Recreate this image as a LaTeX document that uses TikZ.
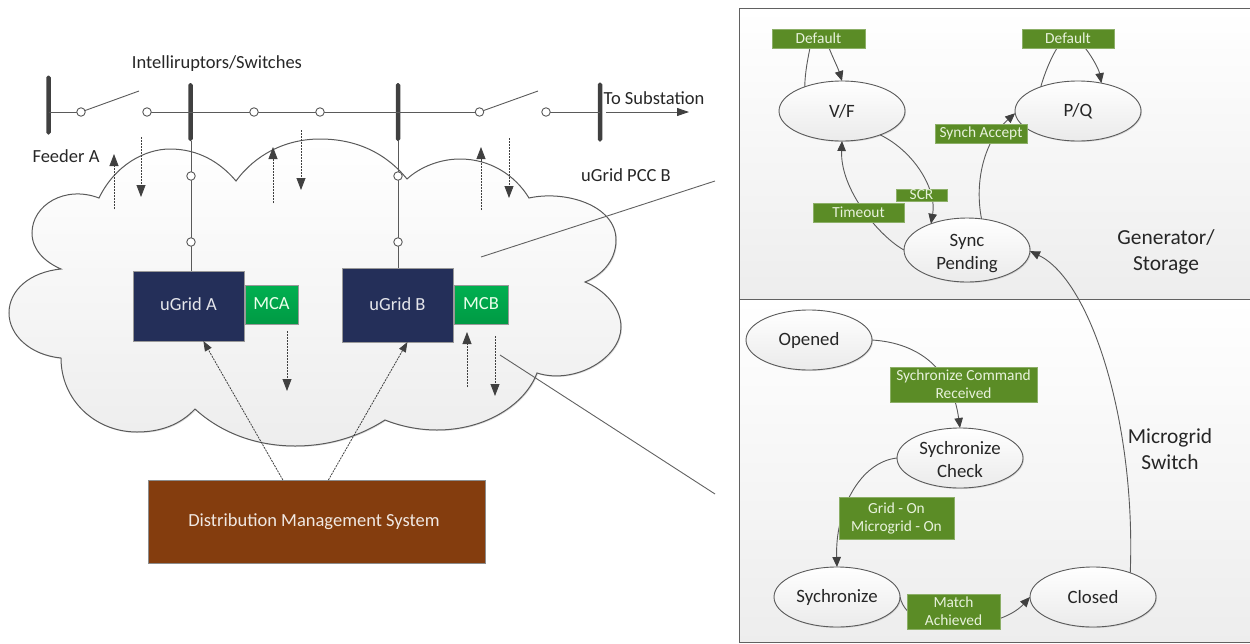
\documentclass[tikz,border=0pt]{standalone}
\usepackage{fontspec}
\setmainfont{Carlito}
\usetikzlibrary{arrows.meta,shapes.geometric,shadows}
\definecolor{ink}{HTML}{262626}
\definecolor{wire}{HTML}{5A5A5A}
\definecolor{tipc}{HTML}{404040}
\definecolor{tagfill}{HTML}{5B8C26}
\definecolor{tagtext}{HTML}{E8F2DC}
\definecolor{navy}{HTML}{242F59}
\definecolor{brownbox}{HTML}{843D0E}
\definecolor{ctrltop}{HTML}{00B050}
\definecolor{ctrlbot}{HTML}{009A44}
\newcommand{\fs}[2]{\fontsize{#1}{#2}\selectfont}
\tikzset{
  every node/.style={inner sep=0pt,outer sep=0pt},
  softshadow/.style={general shadow={fill=black!35,shadow xshift=1pt,shadow yshift=-1pt,opacity=.4}},
  wireline/.style={draw=wire,line width=0.9pt},
  arrowline/.style={wireline,-{Triangle[length=10pt,width=8.5pt,color=tipc]}},
  flow/.style={draw=tipc,line width=0.8pt,dash pattern=on 2pt off 1pt,-{Triangle[length=12pt,width=9pt,color=tipc]}},
  bus/.style={rectangle,rounded corners=1.8pt,fill=tipc,minimum width=4.5pt},
  term/.style={circle,draw=wire,line width=0.9pt,fill=white,minimum size=8.5pt},
  state/.style={ellipse,draw=wire,line width=0.9pt,top color=white,bottom color=black!8,minimum width=126pt,minimum height=60pt,align=center,text=ink,font=\fs{18.8}{23},softshadow},
  tag/.style={rectangle,fill=tagfill,draw=tagfill!70!white,line width=0.5pt,align=center,text=tagtext,font=\fs{15.4}{18}},
  lbl/.style={text=ink,align=center,font=\fs{18.5}{26}},
  big/.style={text=ink,align=center,font=\fs{21.4}{26}},
  panel/.style={draw=black!62,line width=1pt,top color=white,bottom color=black!7},
  unit/.style={rectangle,fill=navy,draw=black!40,line width=0.8pt,text=white!88!navy,font=\fs{18.5}{20}},
  ctrl/.style={rectangle,top color=ctrltop,bottom color=ctrlbot,draw=black!40,line width=0.6pt,text=white!92!green,font=\fs{18.5}{20}},
  callout/.style={draw=black!62,line width=0.9pt},
}
\begin{document}
\begin{tikzpicture}[x=1pt,y=-1pt]
\useasboundingbox (0,0) rectangle (1250,643);
% panels
\path[panel] (739,8) rectangle (1252,299);
\path[panel] (739,299) rectangle (1252,642);
% cloud
\path[draw=wire,line width=1pt,top color=white,bottom color=black!7,softshadow]
  (99,198) .. controls (115,165) and (145,149) .. (170,149)
  .. controls (198,149) and (220,162) .. (236,181)
  .. controls (255,155) and (285,139) .. (320,139)
  .. controls (355,139) and (385,152) .. (407,179)
  .. controls (420,167) and (440,159) .. (460,159)
  .. controls (490,159) and (515,175) .. (529,198)
  .. controls (565,190) and (616,205) .. (616,240)
  .. controls (616,262) and (600,276) .. (585,282)
  .. controls (605,290) and (621,308) .. (621,327)
  .. controls (621,358) and (575,385) .. (537,373)
  .. controls (525,405) and (485,430) .. (437,430)
  .. controls (418,430) and (400,426) .. (385,420)
  .. controls (360,436) and (330,446) .. (295,446)
  .. controls (255,446) and (220,432) .. (195,409)
  .. controls (180,425) and (160,432) .. (137,432)
  .. controls (95,432) and (61,400) .. (61,358)
  .. controls (30,355) and (9,335) .. (9,313)
  .. controls (9,290) and (30,272) .. (61,269)
  .. controls (45,262) and (32,250) .. (32,233)
  .. controls (32,205) and (65,185) .. (99,198) -- cycle;
% buses and terminals
\node[bus,minimum height=59pt] (b1) at (48.5,105) {};
\node[bus,minimum height=58pt] (b2) at (190.5,112) {};
\node[bus,minimum height=58pt] (b3) at (398,112) {};
\node[bus,minimum height=59pt] (b4) at (600,112) {};
\coordinate (c1) at (81,112);
\coordinate (c2) at (147,112);
\coordinate (c3) at (254,112);
\coordinate (c4) at (320,112);
\coordinate (c5) at (479.5,112);
\coordinate (c6) at (546,112);
\coordinate (c7) at (191,176);
\coordinate (c8) at (191,242);
\coordinate (c9) at (398,176);
\coordinate (c10) at (398,242);
\coordinate (blade1) at (139,91);
\coordinate (blade2) at (538,91);
\coordinate (subs) at (606,112);
\coordinate (sube) at (689,112);
% units
\node[unit,minimum width=111pt,minimum height=70pt] (ua) at (188.5,306) {\raisebox{3pt}{uGrid A}};
\node[unit,minimum width=111pt,minimum height=74pt] (ub) at (397.5,305) {\raisebox{2pt}{uGrid B}};
\node[ctrl,minimum width=53pt,minimum height=39pt] (mca) at (271.5,304.5) {\raisebox{1.5pt}{MCA}};
\node[ctrl,minimum width=54pt,minimum height=39pt] (mcb) at (481,304.5) {\raisebox{1.5pt}{MCB}};
\node[rectangle,fill=brownbox,draw=black!45,line width=0.8pt,minimum width=337pt,minimum height=83pt,text=white!88!brownbox,font=\fs{18.5}{20}] (dms) at (316.5,521.5) {\raisebox{2.5pt}{Distribution Management System\hspace{5pt}}};
% wires
\draw[wireline] (c1 -| b1) -- (c1);
\draw[wireline] (c1) -- (blade1);
\draw[wireline] (c2) -- (c2 -| b2);
\draw[wireline] (c2 -| b2) -- (c3);
\draw[wireline] (c3) -- (c4);
\draw[wireline] (c4) -- (c4 -| b3);
\draw[wireline] (c4 -| b3) -- (c5);
\draw[wireline] (c5) -- (blade2);
\draw[wireline] (c6) -- (c6 -| b4);
\draw[wireline] (c7 |- b2.south) -- (c7);
\draw[wireline] (c7) -- (c8);
\draw[wireline] (c8) -- (c8 |- ua.north);
\draw[wireline] (c9 |- b3.south) -- (c9);
\draw[wireline] (c9) -- (c10);
\draw[wireline] (c10) -- (c10 |- ub.north);
\draw[wireline,-{Triangle[length=12pt,width=8pt,color=tipc]}] (subs) -- (sube);
% terminals
\foreach \k in {1,...,10} {\node[term] (t\k c) at (c\k) {};}
% flow arrows
\coordinate (sa1) at (114,209); \coordinate (ea1) at (114,154);
\coordinate (sa2) at (141,137); \coordinate (ea2) at (141,197);
\coordinate (sa3) at (273,203); \coordinate (ea3) at (273,147);
\coordinate (sa4) at (301,130); \coordinate (ea4) at (301,190);
\coordinate (sa5) at (481,210); \coordinate (ea5) at (481,147);
\coordinate (sa6) at (509,138); \coordinate (ea6) at (509,198);
\coordinate (sa7) at (287,331); \coordinate (ea7) at (287,391);
\coordinate (sa8) at (467,387); \coordinate (ea8) at (467,332);
\coordinate (sa9) at (495,336); \coordinate (ea9) at (495,396);
\foreach \k in {1,...,9} {\draw[flow] (sa\k) -- (ea\k);}
\draw[flow,-{Triangle[length=10pt,width=7.5pt,color=tipc]}] (dms.129) -- (ua.-67.5);
\draw[flow,-{Triangle[length=10pt,width=7.5pt,color=tipc]}] (dms.74.5) -- (ub.-75.6);
% callouts
\coordinate (ca1) at (481,257); \coordinate (ca2) at (715,181);
\coordinate (cb1) at (500,355); \coordinate (cb2) at (715,494);
\draw[callout] (ca1) -- (ca2);
\draw[callout] (cb1) -- (cb2);
% labels, left
\node[lbl] (lsw) at (217,64) {Intelliruptors/Switches};
\node[lbl] (lfa) at (66,156) {Feeder A};
\node[lbl] (lsub) at (654,98) {To Substation};
\node[lbl] (lpcc) at (626,175) {uGrid PCC B};
% states
\node[state] (vf) at (842,111) {V/F};
\node[state] (pq) at (1078,111) {P/Q};
\node[state] (sp) at (967,250) {\rule{0pt}{19pt}Sync\\Pending};
\node[state] (op) at (809,340) {\raisebox{-1pt}{Opened}};
\node[state] (ck) at (960,458) {\rule{0pt}{16pt}Sychronize\\Check};
\node[state] (sy) at (837,597) {\raisebox{-1pt}{Sychronize}};
\node[state] (cl) at (1093,597) {Closed};
% tag anchors, named first so the connectors can end on them
\path (818.5,38.5) node[minimum width=93pt,minimum height=19pt] (d1) {};
\path (1068,38.5) node[minimum width=92pt,minimum height=19pt] (d2) {};
% connectors
\draw[wireline] (vf.147) .. controls (805,72) and (808,58) .. (d1.228);
\draw[arrowline] (d1.318) .. controls (833,58) and (838,68) .. (vf.90);
\draw[wireline] (pq.147) .. controls (1045,72) and (1051,58) .. (d2.221);
\draw[arrowline] (d2.331) .. controls (1093,58) and (1099,70) .. (pq.50);
\draw[arrowline] (vf.-32) .. controls (915,152) and (937,190) .. (sp.144);
\draw[arrowline] (sp.180) .. controls (880,237) and (840,190) .. (vf.270);
\draw[arrowline] (sp.65) .. controls (974,180) and (985,140) .. (pq.182);
\draw[arrowline] (cl.33) .. controls (1136,420) and (1090,280) .. (sp.-1);
\draw[arrowline] (op.0) .. controls (920,343) and (952,370) .. (ck.90);
\draw[arrowline] (ck.180) .. controls (860,462) and (835,510) .. (sy.90);
\draw[arrowline] (sy.0) .. controls (910,640) and (1000,630) .. (cl.180);
% tags
\node[tag,minimum width=93pt,minimum height=19pt] (t1) at (818.5,38.5) {Default};
\node[tag,minimum width=92pt,minimum height=19pt] (t2) at (1068,38.5) {Default};
\node[tag,minimum width=92pt,minimum height=19pt] (t3) at (981,133.5) {Synch Accept};
\node[tag,minimum width=51pt,minimum height=12pt] (t4) at (921.5,195) {SCR};
\node[tag,minimum width=91pt,minimum height=19pt] (t5) at (858.5,212.5) {Timeout};
\node[tag,minimum width=147pt,minimum height=35pt] (t6) at (963.5,384.5) {Sychronize Command\\Received};
\node[tag,minimum width=115pt,minimum height=42pt] (t7) at (896.5,518) {Grid - On\\Microgrid - On};
\node[tag,minimum width=93pt,minimum height=35pt] (t8) at (953.5,611.5) {Match\\Achieved};
% panel labels
\node[big] (lgen) at (1166,251.5) {Generator/\\Storage};
\node[big] (lmic) at (1170,449) {Microgrid\\Switch};
\end{tikzpicture}
\end{document}
